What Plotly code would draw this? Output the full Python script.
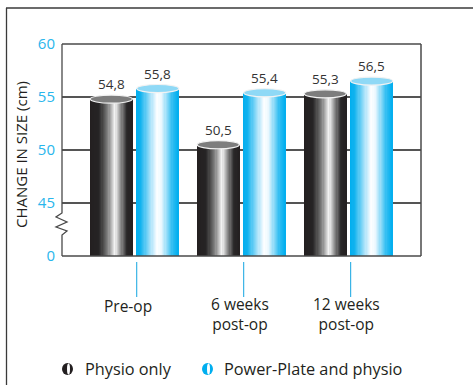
import plotly.graph_objects as go

# ---- data ----
categories = ["Pre-op", "6 weeks<br>post-op", "12 weeks<br>post-op"]
physio_only = [54.8, 50.5, 55.3]
power_plate = [55.8, 55.4, 56.5]
series_names = ["Physio only", "Power-Plate and physio"]
tick_values = [40, 45, 50, 55, 60]
tick_labels = ["0", "45", "50", "55", "60"]

# ---- geometry / styling ----
W, H = 473, 385
L, R, T, B = 62, 421, 44, 256          # plot area in pixels
BAR_W = 0.395
OFFSETS = [-0.415, 0.02]
N_SLICES = 36

DARK_STOPS = [(0.0, "#231f20"), (0.22, "#262425"), (0.42, "#7a7a7a"),
              (0.6, "#f4f4f4"), (0.74, "#8a8a8a"), (0.88, "#2a2829"), (1.0, "#231f20")]
BLUE_STOPS = [(0.0, "#00aeef"), (0.1, "#12b3ef"), (0.38, "#bfe9fb"),
              (0.5, "#ffffff"), (0.6, "#e8f7fe"), (0.86, "#2dbcf1"), (1.0, "#00aeef")]
TOP_FILL = ["#7d7d7d", "#8fd9f6"]
TEXT = "#231f20"
BLUE_TXT = "#29b6ec"
FONT = "Open Sans"


def hex2rgb(h):
    h = h.lstrip("#")
    return tuple(int(h[i:i + 2], 16) for i in (0, 2, 4))


def gradient(stops, t):
    for (t0, c0), (t1, c1) in zip(stops[:-1], stops[1:]):
        if t0 <= t <= t1:
            f = (t - t0) / (t1 - t0) if t1 > t0 else 0
            a, b = hex2rgb(c0), hex2rgb(c1)
            return "rgb(%d,%d,%d)" % tuple(round(a[i] + (b[i] - a[i]) * f) for i in range(3))
    return stops[-1][1]


def pxx(x):
    return (x - L) / (R - L)


def pxy(y):
    return (B - y) / (B - T)


xs = list(range(len(categories)))
fig = go.Figure()

# cylinder bodies: each bar is built from thin vertical slices of a shaded gradient
for s, (vals, stops) in enumerate([(physio_only, DARK_STOPS), (power_plate, BLUE_STOPS)]):
    sw = BAR_W / N_SLICES
    for k in range(N_SLICES):
        t = (k + 0.5) / N_SLICES
        last = k == N_SLICES - 1
        fig.add_trace(go.Bar(
            x=xs, y=vals, width=sw * (1.0 if last else 1.6),
            offset=OFFSETS[s] + k * sw,
            marker=dict(color=gradient(stops, t), line=dict(width=0)),
            name=series_names[s], showlegend=False,
            hovertemplate="%{y}<extra>" + series_names[s] + "</extra>",
        ))

shapes = []
annotations = []

# cylinder tops and value labels
for s, vals in enumerate([physio_only, power_plate]):
    for i, v in zip(xs, vals):
        x0 = i + OFFSETS[s]
        shapes.append(dict(type="circle", xref="x", yref="y",
                           x0=x0, x1=x0 + BAR_W, y0=v - 0.38, y1=v + 0.38,
                           fillcolor=TOP_FILL[s], line=dict(color="#f2f2f2", width=1.2)))
        annotations.append(dict(x=x0 + BAR_W / 2, y=v, xref="x", yref="y",
                                text=f"{v:.1f}".replace(".", ","), showarrow=False,
                                yshift=15, font=dict(size=13.5, color="#333333", family=FONT)))

# plot frame with a broken left axis
frame = dict(color="#4a4a4a", width=1.5)
shapes += [
    dict(type="line", xref="paper", yref="paper", x0=0, x1=1, y0=1, y1=1, line=frame),
    dict(type="line", xref="paper", yref="paper", x0=1, x1=1, y0=0, y1=1, line=frame),
    dict(type="line", xref="paper", yref="paper", x0=0, x1=1, y0=0, y1=0, line=frame),
]
zig = [(62, 44), (62, 213), (56, 217), (67, 222), (56, 227), (67, 231), (62, 235), (62, 256)]
path = "M " + " L ".join(f"{pxx(x):.4f},{pxy(y):.4f}" for x, y in zig)
shapes.append(dict(type="path", xref="paper", yref="paper", path=path,
                   line=dict(color="#4a4a4a", width=1.3)))

# outer panel border (left and top)
outer = dict(color="#3a3a3a", width=1.3)
shapes += [
    dict(type="line", xref="paper", yref="paper", x0=pxx(6.5), x1=pxx(6.5),
         y0=pxy(8), y1=pxy(386), line=outer),
    dict(type="line", xref="paper", yref="paper", x0=pxx(6), x1=pxx(474),
         y0=pxy(8), y1=pxy(8), line=outer),
]

# category ticks and labels
for i, cat in zip(xs, categories):
    shapes.append(dict(type="line", xref="x", yref="paper", x0=i + 0.02, x1=i + 0.02,
                       y0=pxy(262), y1=pxy(297), line=dict(color="#3ab4e6", width=1.2)))
    two_line = "<br>" in cat
    annotations.append(dict(x=i, y=pxy(314 if two_line else 306), xref="x", yref="paper",
                            text=cat, showarrow=False, xshift=-2 if two_line else -7,
                            yanchor="middle", xanchor="center", align="center",
                            font=dict(size=15.5, color=TEXT, family=FONT)))

# y-axis title
annotations.append(dict(x=pxx(21), y=pxy(155), xref="paper", yref="paper",
                        xanchor="center", yanchor="middle",
                        text="CHANGE IN SIZE (cm)", textangle=-90, showarrow=False,
                        font=dict(size=15, color=TEXT, family=FONT)))

# legend drawn by hand: split-shaded circles with labels
legend_items = [(67.5, 83, series_names[0], "#231f20"),
                (207.5, 222, series_names[1], "#00aeef")]
ly = 369
for cx, tx, name, col in legend_items:
    shapes.append(dict(type="circle", xref="paper", yref="paper",
                       x0=pxx(cx - 5.5), x1=pxx(cx + 5.5), y0=pxy(ly - 6), y1=pxy(ly + 6),
                       fillcolor=col, line=dict(width=0)))
    shapes.append(dict(type="circle", xref="paper", yref="paper",
                       x0=pxx(cx - 0.5), x1=pxx(cx + 2.5), y0=pxy(ly - 5.5), y1=pxy(ly + 5.5),
                       fillcolor="#ffffff", line=dict(width=0)))
    annotations.append(dict(x=pxx(tx), y=pxy(ly), xref="paper", yref="paper",
                            text=name, showarrow=False, xanchor="left", yanchor="middle",
                            font=dict(size=16.3, color=TEXT, family=FONT)))

fig.update_layout(
    width=W, height=H,
    margin=dict(l=L, r=W - R, t=T, b=H - B, pad=0),
    paper_bgcolor="white", plot_bgcolor="white",
    barmode="overlay", bargap=0,
    showlegend=False,
    font=dict(family=FONT, color=TEXT),
    shapes=shapes, annotations=annotations,
    xaxis=dict(range=[-0.678, 2.678], showticklabels=False, showgrid=False,
               zeroline=False, showline=False, ticks="", fixedrange=True),
    yaxis=dict(range=[40, 60], tickvals=tick_values, ticktext=tick_labels,
               showgrid=True, gridcolor="#555555", gridwidth=1.5,
               zeroline=False, showline=False, ticks="",
               ticklabelstandoff=6,
               tickfont=dict(size=15, color=BLUE_TXT, family=FONT), fixedrange=True),
)

fig.write_html("out.html")
